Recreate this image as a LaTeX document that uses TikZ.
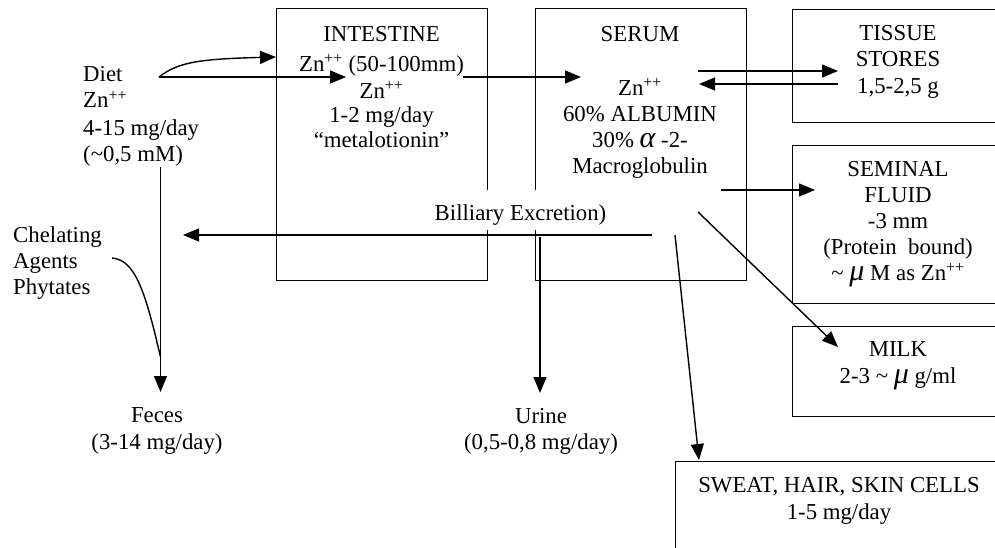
\documentclass[tikz,border=0pt]{standalone}
\usepackage{fontspec}
\setmainfont{Liberation Serif}
\usetikzlibrary{arrows.meta}
\newcommand{\zn}{Zn\textsuperscript{++}}
\newcommand{\bigmu}{{\fontsize{30}{26}\selectfont\itshape μ}}
\newcommand{\bigalpha}{{\fontsize{30}{26}\selectfont\itshape α}}
\begin{document}
\begin{tikzpicture}[x=1pt,y=-1pt,
  box/.style={draw, line width=1.4pt, anchor=north west, inner sep=0pt},
  lbl/.style={font=\fontsize{22.8}{26}\selectfont, align=center, inner sep=0pt, anchor=north},
  lblL/.style={font=\fontsize{22.8}{26}\selectfont, align=left, inner sep=0pt, anchor=north west},
  arr/.style={line width=1.4pt, -{Triangle[length=16pt,width=13pt]}},
  ln/.style={line width=1.4pt}]
\path[use as bounding box, fill=white] (0,0) rectangle (995,548);
\clip (0,0) rectangle (995,548);

% boxes
\node[box, minimum width=211pt, minimum height=272pt] (intestine) at (276,8) {};
\node[box, minimum width=211pt, minimum height=272pt] (serum) at (534.5,8) {};
\node[box, minimum width=212pt, minimum height=113pt] (tissue) at (792,9) {};
\node[box, minimum width=212pt, minimum height=158pt] (seminal) at (792,145) {};
\node[box, minimum width=212pt, minimum height=90pt] (milk) at (792,326) {};
\node[box, minimum width=330pt, minimum height=120pt] (sweat) at (675,461) {};

% texts
\node[lblL] (diet) at (83,66.5) {Diet\\\zn\\[2pt]4-15 mg/day\\(\textasciitilde0,5 mM)};
\node[lbl] (intT) at (381.5,26) {INTESTINE\\[4pt]\zn\ (50-100mm)\\[1pt]\zn\\[-2pt]1-2 mg/day\\[-1pt]``metalotionin''};
\node[lbl] (serT) at (640,26) {SERUM\\[28pt]\zn\\60\% ALBUMIN\\30\% \bigalpha\ -2-\\Macroglobulin};
\node[lbl] (tisT) at (898,25) {TISSUE\\STORES\\[1pt]1,5-2,5 g};
\node[lbl] (semT) at (898,161) {SEMINAL\\FLUID\\-3 mm\\(Protein\ \ bound)\\\textasciitilde\ \bigmu\ M as \zn};
\node[lbl, font=\fontsize{22.8}{27}\selectfont] (milkT) at (898,341.3) {MILK\\2-3 \textasciitilde\ \bigmu\ g/ml};
\node[lbl, font=\fontsize{22.8}{27}\selectfont] (sweatT) at (839,477) {SWEAT, HAIR, SKIN CELLS\\1-5 mg/day};
\node[lbl, font=\fontsize{22.8}{27}\selectfont] (feces) at (157,407) {Feces\\(3-14 mg/day)};
\node[lbl] (urine) at (541,408) {Urine\\(0,5-0,8 mg/day)};
\node[lblL] (chel) at (13,226.5) {Chelating\\Agents\\Phytates};
\node[font=\fontsize{22.8}{26}\selectfont, fill=white, anchor=base, inner ysep=0pt, inner xsep=2pt,
      text height=30pt, text depth=10pt] (bil) at (520.5,220) {Billiary Excretion)};

% connector end points
\coordinate (dietout) at (159,77);
\coordinate (intin) at (276,57);
\coordinate (znin) at (346,77);
\coordinate (intout) at (463,77);
\coordinate (serin) at (581,77);
\coordinate (serTa) at (698,71);
\coordinate (tisIn) at (838,71);
\coordinate (tisOut) at (838,84);
\coordinate (serTb) at (699,84);
\coordinate (serS) at (721,190);
\coordinate (semIn) at (815,190);
\coordinate (serM) at (698,212);
\coordinate (milkIn) at (838,347);
\coordinate (bilStart) at (652,235);
\coordinate (bilEnd) at (183,235);
\coordinate (urStart) at (540,237);
\coordinate (urEnd) at (540,393);
\coordinate (swStart) at (675,235);
\coordinate (swEnd) at (699,460);
\coordinate (fecStart) at (160.5,167);
\coordinate (fecEnd) at (160.5,392);
\coordinate (chelStart) at (112,258);
\coordinate (chelEnd) at (160.5,357);

% connectors
\draw[arr] (dietout) .. controls (178,62) and (200,59) .. (intin);
\draw[arr] (dietout) -- (znin);
\draw[arr] (intout) -- (serin);
\draw[arr] (serTa) -- (tisIn);
\draw[arr] (tisOut) -- (serTb);
\draw[arr] (serS) -- (semIn);
\draw[arr] (serM) -- (milkIn);
\draw[arr] (bilStart) -- (bilEnd);
\draw[arr] (urStart) -- (urEnd);
\draw[arr] (swStart) -- (swEnd);
\draw[arr] (fecStart) -- (fecEnd);
\draw[ln] (chelStart) .. controls (135,260) and (145,290) .. (chelEnd);
\end{tikzpicture}
\end{document}
